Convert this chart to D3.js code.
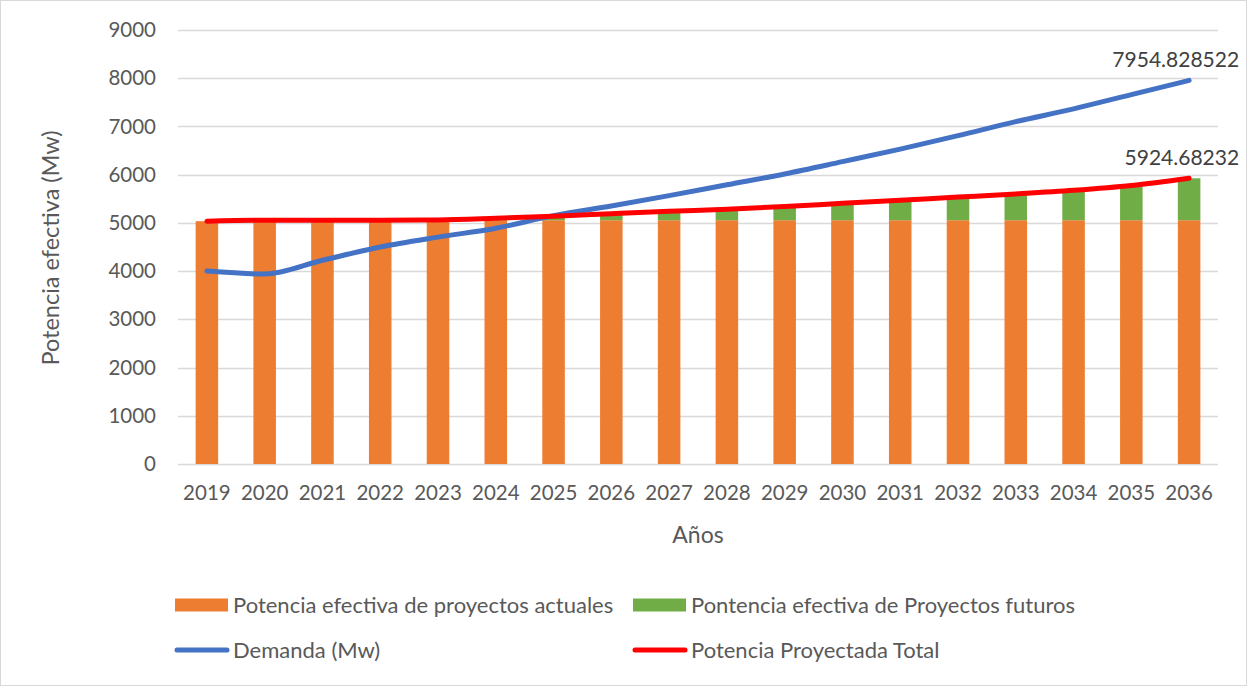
<!DOCTYPE html>
<html>
<head>
<meta charset="utf-8">
<script src="https://cdn.jsdelivr.net/npm/d3@7/dist/d3.min.js"></script>
<style>
  html, body { margin: 0; padding: 0; background: #fff; }
  svg { display: block; font-family: Lato, "Open Sans", sans-serif; }
</style>
</head>
<body>
<svg id="chart" width="1247" height="686"></svg>
<script>
// ---- data ----
const years = ["2019","2020","2021","2022","2023","2024","2025","2026","2027","2028","2029","2030","2031","2032","2033","2034","2035","2036"];
const actuales = [5035,5055,5055,5055,5055,5055,5055,5055,5055,5055,5055,5055,5055,5055,5055,5055,5055,5055];
const futuros  = [0,0,0,0,5,40,85,135,185,230,285,350,415,480,545,620,720,869.68232];
const demanda  = [4000,3940,4225,4500,4705,4890,5150,5350,5565,5790,6015,6270,6530,6810,7100,7365,7660,7954.828522];
const totalProyectada = [5035,5055,5055,5055,5060,5095,5140,5190,5240,5285,5340,5405,5470,5535,5600,5675,5775,5924.68232];
const yTicks = [0,1000,2000,3000,4000,5000,6000,7000,8000,9000];
const labels = { demanda: "7954.828522", total: "5924.68232" };
const seriesNames = ["Potencia efectiva de proyectos actuales","Pontencia efectiva de Proyectos futuros","Demanda (Mw)","Potencia Proyectada Total"];
const colors = { actuales: "#ED7D31", futuros: "#70AD47", demanda: "#4472C4", total: "#FF0000" };

// ---- layout ----
const svg = d3.select("#chart");
const W = 1247, H = 686;
const plot = { left: 178, right: 1218, top: 30, bottom: 464 };
const textColor = "#595959";

svg.append("rect").attr("x",0.5).attr("y",0.5).attr("width",W-1).attr("height",H-1)
  .attr("fill","#fff").attr("stroke","#D9D9D9").attr("stroke-width",1);

const x = d3.scaleBand().domain(years).range([plot.left, plot.right])
  .paddingInner(0.61).paddingOuter(0.305);
const y = d3.scaleLinear().domain([0, 9000]).range([plot.bottom, plot.top]);
const cx = d => x(d) + x.bandwidth()/2;

// gridlines
svg.append("g").selectAll("line").data(yTicks).join("line")
  .attr("x1", plot.left).attr("x2", plot.right)
  .attr("y1", d => Math.round(y(d)) + 0.5).attr("y2", d => Math.round(y(d)) + 0.5)
  .attr("stroke", "#D9D9D9").attr("stroke-width", 1.3);

// y axis labels
const yAxis = d3.axisLeft(y).tickValues(yTicks).tickSize(0).tickPadding(0).tickFormat(d3.format("d"));
const gy = svg.append("g").attr("transform", `translate(${plot.left - 22},0)`).call(yAxis);
gy.select(".domain").remove();
gy.selectAll("text").attr("fill", textColor).style("font-size","20.5px").style("font-family","Lato");

// x axis labels
const xAxis = d3.axisBottom(x).tickSize(0).tickPadding(0);
const gx = svg.append("g").attr("transform", `translate(0,${plot.bottom + 21})`).call(xAxis);
gx.select(".domain").remove();
gx.selectAll("text").attr("fill", textColor).style("font-size","20.5px").style("font-family","Lato");

// stacked bars
const stackData = years.map((yr,i) => ({ year: yr, actuales: actuales[i], futuros: futuros[i] }));
const stacked = d3.stack().keys(["actuales","futuros"])(stackData);
svg.append("g").selectAll("g").data(stacked).join("g")
  .attr("fill", s => colors[s.key])
  .selectAll("rect").data(s => s).join("rect")
  .attr("x", d => x(d.data.year))
  .attr("width", x.bandwidth())
  .attr("y", d => y(d[1]))
  .attr("height", d => Math.max(0, y(d[0]) - y(d[1])));

// lines
const line = d3.line().x((d,i) => cx(years[i])).y(d => y(d)).curve(d3.curveMonotoneX);
svg.append("path").datum(demanda).attr("d", line)
  .attr("fill","none").attr("stroke", colors.demanda).attr("stroke-width", 5)
  .attr("stroke-linecap","round").attr("stroke-linejoin","round");
svg.append("path").datum(totalProyectada).attr("d", line)
  .attr("fill","none").attr("stroke", colors.total).attr("stroke-width", 5)
  .attr("stroke-linecap","round").attr("stroke-linejoin","round");

// data labels
const last = years.length - 1;
svg.append("text").attr("x", cx(years[last]) + 50).attr("y", y(demanda[last]) - 13)
  .attr("text-anchor","end").attr("fill","#404040").style("font-size","21px").text(labels.demanda);
svg.append("text").attr("x", cx(years[last]) + 50).attr("y", y(totalProyectada[last]) - 13)
  .attr("text-anchor","end").attr("fill","#404040").style("font-size","21px").text(labels.total);

// axis titles
svg.append("text").attr("transform", `translate(59,248) rotate(-90)`)
  .attr("text-anchor","middle").attr("fill", textColor).style("font-size","23.5px")
  .text("Potencia efectiva (Mw)");
svg.append("text").attr("x", (plot.left+plot.right)/2).attr("y", 543)
  .attr("text-anchor","middle").attr("fill", textColor).style("font-size","23px").text("Años");

// legend
const legend = [
  { name: seriesNames[0], type: "rect", color: colors.actuales, x: 175, y: 605 },
  { name: seriesNames[1], type: "rect", color: colors.futuros, x: 633, y: 605 },
  { name: seriesNames[2], type: "line", color: colors.demanda, x: 175, y: 650 },
  { name: seriesNames[3], type: "line", color: colors.total, x: 633, y: 650 }
];
const lg = svg.append("g").selectAll("g").data(legend).join("g")
  .attr("transform", d => `translate(${d.x},${d.y})`);
lg.filter(d => d.type === "rect").append("rect")
  .attr("x",0).attr("y",-6.5).attr("width",53).attr("height",13).attr("fill", d => d.color);
lg.filter(d => d.type === "line").append("line")
  .attr("x1",2).attr("x2",52).attr("y1",0).attr("y2",0)
  .attr("stroke", d => d.color).attr("stroke-width",5).attr("stroke-linecap","round");
lg.append("text").attr("x",58).attr("y",0).attr("dy","0.35em")
  .attr("fill", textColor).style("font-size","22px").text(d => d.name);
</script>
</body>
</html>
